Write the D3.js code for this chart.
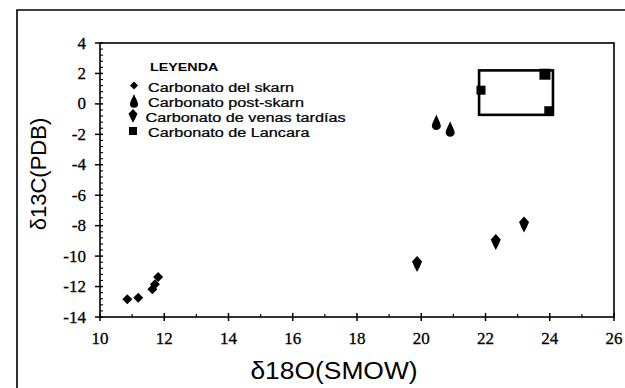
<!DOCTYPE html>
<html><head><meta charset="utf-8">
<script src="https://cdn.jsdelivr.net/npm/d3@7"></script>
<style>
body{margin:0;background:#fff}svg{display:block}
.tick{font-family:"Liberation Serif","Times New Roman",serif;font-size:17px;stroke:#000;stroke-width:0.3px}
.sans{font-family:"Liberation Sans",Arial,sans-serif}
</style>
</head><body><svg id="c" width="625" height="388"></svg>
<script>
// ---- data ----
const skarnX = [10.85, 11.19, 11.63, 11.71, 11.81];
const skarnY = [-12.84, -12.73, -12.18, -11.85, -11.38];
const postX = [20.47, 20.9];
const postY = [-1.25, -1.7];
const venasX = [19.87, 22.32, 23.2];
const venasY = [-10.5, -9.05, -7.9];
const lancaraX = [21.86, 23.85, 23.97];
const lancaraY = [0.9, 1.95, -0.45];
const lancaraBoxX = [21.8, 24.1];
const lancaraBoxY = [-0.72, 2.2];
const xTicks = [10, 12, 14, 16, 18, 20, 22, 24, 26];
const yTicks = [4, 2, 0, -2, -4, -6, -8, -10, -12, -14];
const legendLabels = ["Carbonato del skarn", "Carbonato  post-skarn", "Carbonato de venas tardías", "Carbonato de Lancara"];
const legendTitle = "LEYENDA";
const xTitle = "δ18O(SMOW)";
const yTitle = "δ13C(PDB)";

const svg = d3.select("#c");
const L = 100, R = 614, T = 43, B = 317;
const x = d3.scaleLinear().domain([10, 26]).range([L, R]);
const y = d3.scaleLinear().domain([-14, 4]).range([B, T]);

// outer frame (only left & top visible)
svg.append("path").attr("d", `M17,388V10H625`).attr("fill", "none").attr("stroke", "#000").attr("stroke-width", 1.6);

// plot frame
svg.append("rect").attr("x", L).attr("y", T).attr("width", R - L).attr("height", B - T)
  .attr("fill", "none").attr("stroke", "#000").attr("stroke-width", 1.6);

// x axis
const gx = svg.append("g");
xTicks.forEach(t => {
  gx.append("line").attr("x1", x(t)).attr("x2", x(t)).attr("y1", B - 4).attr("y2", B + 4).attr("stroke", "#000").attr("stroke-width", 1.5);
  gx.append("text").attr("class", "tick").attr("x", x(t)).attr("y", 344).attr("text-anchor", "middle").text(t);
});
d3.range(11, 26, 2).forEach(t => {
  gx.append("line").attr("x1", x(t)).attr("x2", x(t)).attr("y1", B - 3).attr("y2", B).attr("stroke", "#000").attr("stroke-width", 1.2);
});
// y axis
const gy = svg.append("g");
yTicks.forEach(t => {
  gy.append("line").attr("x1", L - 5).attr("x2", L + 3).attr("y1", y(t)).attr("y2", y(t)).attr("stroke", "#000").attr("stroke-width", 1.5);
  gy.append("text").attr("class", "tick").attr("x", 86).attr("y", y(t) + 5.5).attr("text-anchor", "end").text(t);
});
d3.range(-14, 4, 0.4).forEach(t => {
  if (Math.abs(t - Math.round(t / 2) * 2) < 0.01) return;
  gy.append("line").attr("x1", L).attr("x2", L + 3).attr("y1", y(t)).attr("y2", y(t)).attr("stroke", "#000").attr("stroke-width", 1.1);
});

// titles
svg.append("text").attr("class", "sans").attr("transform", "translate(334,379) scale(1.1,1)").attr("text-anchor", "middle")
  .attr("font-size", 24).text(xTitle);
svg.append("text").attr("class", "sans").attr("transform", "translate(46,174) rotate(-90)").attr("text-anchor", "middle")
  .attr("font-size", 22).text(yTitle);

// marker shapes
const diamond = s => `M0,${-s}L${s},0L0,${s}L${-s},0Z`;
const drop = (w, h) => `M0,${-h}C${w*0.4},${-h*0.5} ${w},${h*0.1} ${w},${h*0.35} A${w},${w*0.9} 0 0 1 ${-w},${h*0.35} C${-w},${h*0.1} ${-w*0.4},${-h*0.5} 0,${-h}Z`;
const kite = (w, h) => `M0,${-h*0.55}L${w},${-h*0.15}L${w*0.5},${h*0.25}L0,${h*0.6}L${-w*0.5},${h*0.25}L${-w},${-h*0.15}Z`;
const square = s => `M${-s},${-s}H${s}V${s}H${-s}Z`;

// Lancara box
svg.append("rect").attr("x", x(lancaraBoxX[0])).attr("y", y(lancaraBoxY[1]))
  .attr("width", x(lancaraBoxX[1]) - x(lancaraBoxX[0])).attr("height", y(lancaraBoxY[0]) - y(lancaraBoxY[1]))
  .attr("fill", "none").attr("stroke", "#000").attr("stroke-width", 2.6);

const pts = svg.append("g");
skarnX.forEach((v, i) => pts.append("path").attr("transform", `translate(${x(v)},${y(skarnY[i])})`).attr("d", diamond(5)));
postX.forEach((v, i) => pts.append("path").attr("transform", `translate(${x(v)},${y(postY[i])})`).attr("d", drop(4.5, 8.5)));
venasX.forEach((v, i) => pts.append("path").attr("transform", `translate(${x(v)},${y(venasY[i])})`).attr("d", kite(5, 14)));
lancaraX.forEach((v, i) => pts.append("path").attr("transform", `translate(${x(v)},${y(lancaraY[i])})`).attr("d", square(i === 1 ? 5.5 : 4.5)));

// legend
const lg = svg.append("g");
lg.append("text").attr("class", "sans").attr("transform", "translate(150,71) scale(1.3,1)")
  .attr("font-size", 11).attr("font-weight", "bold").text(legendTitle);
const legY = [91.5, 106.5, 121.5, 137];
const legShapes = [diamond(4), drop(4, 7.5), kite(4.5, 12), square(4)];
const legMX = [134, 134, 133, 133];
const legMY = [-6, -5, -6, -6];
legendLabels.forEach((t, i) => {
  lg.append("path").attr("transform", `translate(${legMX[i]},${legY[i] + legMY[i]})`).attr("d", legShapes[i]);
  lg.append("text").attr("class", "sans").attr("transform", `translate(${i === 2 ? 145.5 : 148},${legY[i]}) scale(1.22,1)`)
    .attr("font-size", 13.3).attr("stroke", "#000").attr("stroke-width", 0.25).text(t);
});
</script></body></html>
